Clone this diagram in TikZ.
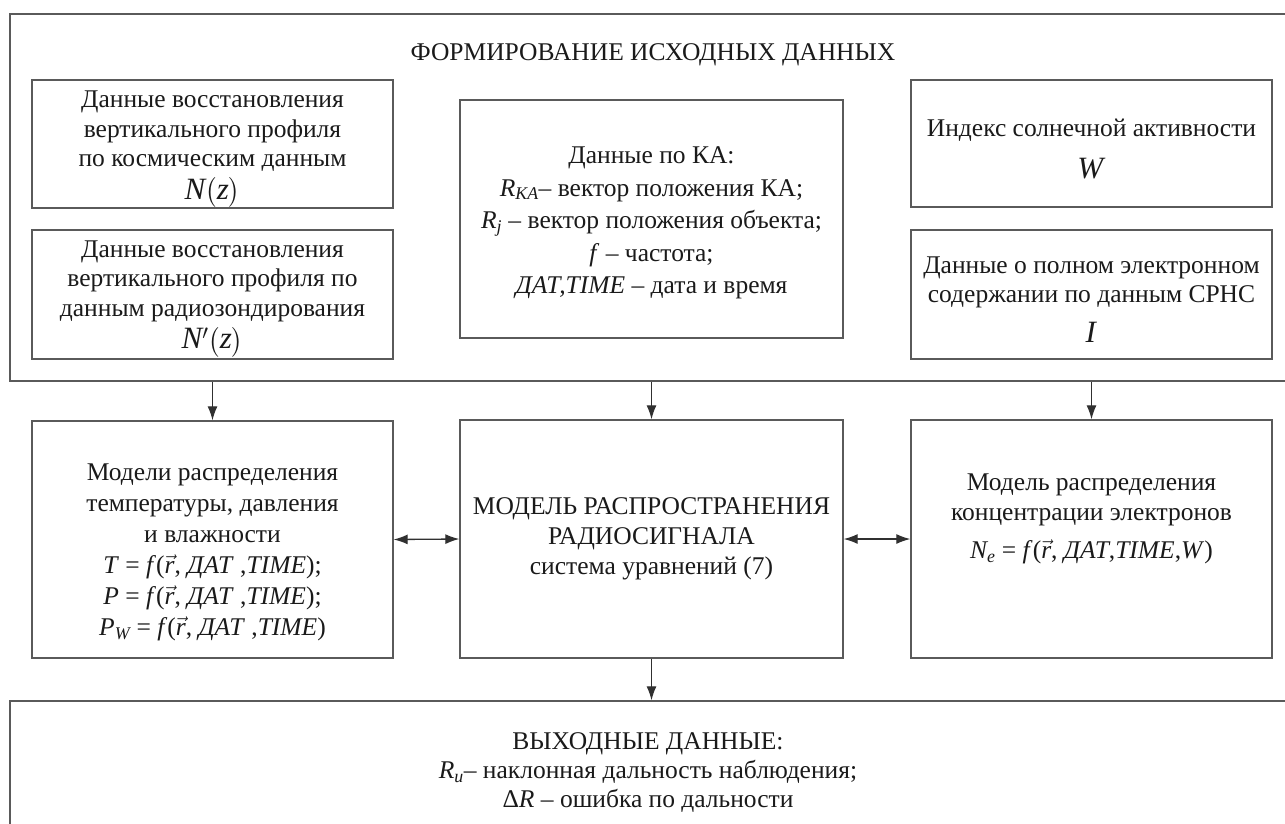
\documentclass[tikz,border=0pt]{standalone}
\usepackage{fontspec}
\setmainfont{Liberation Serif}
\usepackage{amsmath}
\usetikzlibrary{arrows.meta}
\definecolor{frame}{HTML}{5A5A5A}
\definecolor{wire}{HTML}{303030}
\definecolor{ink}{HTML}{1A1A1A}
\newcommand{\iv}[1]{\text{\itshape #1}}
\newcommand{\rvec}{\ensuremath{\vec{\text{\itshape r}}}}
\newcommand{\bigsym}[1]{{\fontsize{31}{31}\selectfont #1}}
\newcommand{\lp}{{\fontsize{34}{34}\selectfont$\smash{\bigl(}$}}
\newcommand{\rp}{{\fontsize{34}{34}\selectfont$\smash{\bigr)}$}}
\begin{document}
\begin{tikzpicture}[x=1pt,y=-1pt,
  box/.style={draw=frame,line width=1.4pt,inner sep=0pt,fill=none},
  txt/.style={align=center,text=ink,font=\fontsize{25.5}{29.5}\selectfont,inner sep=0pt},
  arr/.style={draw=wire,line width=1.3pt,-{Latex[length=14pt,width=10pt]}},
  darr/.style={draw=wire,line width=1.3pt,{Latex[length=14pt,width=10pt]}-{Latex[length=14pt,width=10pt]}}]
\useasboundingbox[fill=white] (0,0) rectangle (1285,823);
% outer frames (extend past the picture edge)
\node[box,minimum width=1300pt,minimum height=367pt] (top) at (660,197.5) {};
\node[box,minimum width=1300pt,minimum height=200pt] (bot) at (660,801) {};
\node[txt] (title) at (653,55) {ФОРМИРОВАНИЕ ИСХОДНЫХ ДАННЫХ};
% input boxes
\node[box,minimum width=361pt,minimum height=128pt] (l1) at (212.5,144) {};
\node[txt] (l1t) at ([yshift=-1pt]l1.center) {Данные восстановления\\вертикального профиля\\по космическим данным\\[3pt]\bigsym{\iv{N}\lp\iv{z}\rp}};
\node[box,minimum width=361pt,minimum height=129pt] (l2) at (212.5,294.5) {};
\node[txt] (l2t) at ([yshift=0pt]l2.center) {Данные восстановления\\вертикального профиля по\\данным радиозондирования\\[3pt]\bigsym{\iv{N}$'$\lp\iv{z}\rp}};
\node[box,minimum width=383pt,minimum height=238pt] (c1) at (651.5,219) {};
\node[txt,font=\fontsize{25.5}{32.5}\selectfont] (c1t) at ([yshift=-4pt]c1.center) {Данные по КА:\\
$\iv{R}_{\iv{КА}}$– вектор положения КА;\\
$\iv{R}_{\iv{j}}$ – вектор положения объекта;\\
\textit{f} – частота;\\
\textit{ДАТ,TIME} – дата и время};
\node[box,minimum width=361pt,minimum height=127pt] (r1) at (1091.5,143.5) {};
\node[txt,font=\fontsize{25.5}{42}\selectfont] (r1t) at ([yshift=-5pt]r1.center) {Индекс солнечной активности\\\bigsym{\textit{W}}};
\node[box,minimum width=361pt,minimum height=129pt] (r2) at (1091.5,294.5) {};
\node[txt] (r2t) at ([yshift=-5pt]r2.center) {Данные о полном электронном\\содержании по данным СРНС\\[10pt]\bigsym{\textit{I}}};
% model boxes
\node[box,minimum width=361pt,minimum height=237pt] (m1) at (212.5,539.5) {};
\node[txt,font=\fontsize{25.5}{31}\selectfont] (m1t) at ([yshift=-13pt]m1.center) {Модели распределения\\температуры, давления\\и влажности\\
\textit{T} = \textit{f}(\rvec, \textit{ДАТ} ,\textit{TIME});\\
\textit{P} = \textit{f}(\rvec, \textit{ДАТ} ,\textit{TIME});\\
$\iv{P}_{\iv{W}}$ = \textit{f}(\rvec, \textit{ДАТ} ,\textit{TIME})};
\node[box,minimum width=383pt,minimum height=238pt] (m2) at (651.5,539) {};
\node[txt,font=\fontsize{25.5}{30}\selectfont] (m2t) at (m2) {МОДЕЛЬ РАСПРОСТРАНЕНИЯ\\РАДИОСИГНАЛА\\система уравнений (7)};
\node[box,minimum width=361pt,minimum height=238pt] (m3) at (1091.5,539) {};
\node[txt,font=\fontsize{25.5}{30}\selectfont] (m3t) at ([yshift=20pt]m3.center) {Модель распределения\\концентрации электронов\\[8pt]
$\iv{N}_{\iv{e}}$ = \textit{f}(\rvec, \textit{ДАТ},\textit{TIME},\textit{W})};
% output text
\node[txt,font=\fontsize{25.5}{29}\selectfont] (bott) at (648,773) {ВЫХОДНЫЕ ДАННЫЕ:\\
$\iv{R}_{\iv{и}}$– наклонная дальность наблюдения;\\
Δ\textit{R} – ошибка по дальности};
% connectors
\draw[arr] (l2.south |- top.south) -- (m1.north);
\draw[arr] (c1.south |- top.south) -- (m2.north);
\draw[arr] (r2.south |- top.south) -- (m3.north);
\draw[darr] (m1.east) -- (m2.west);
\draw[darr] (m2.east) -- (m3.west);
\draw[arr] (m2.south) -- (m2.south |- bot.north);
\end{tikzpicture}
\end{document}
